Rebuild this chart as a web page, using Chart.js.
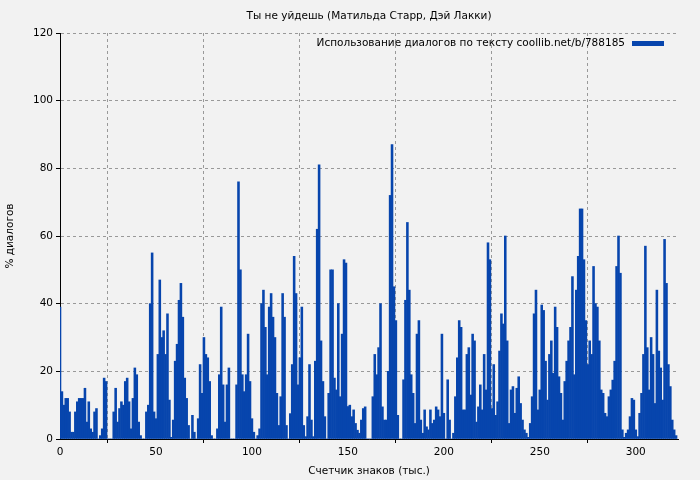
<!DOCTYPE html>
<html>
<head>
<meta charset="utf-8">
<script src="https://cdn.jsdelivr.net/npm/chart.js@4/dist/chart.umd.min.js"></script>
<style>
  body { margin: 0; background: #f2f2f2; }
  #wrap { width: 700px; height: 480px; }
</style>
</head>
<body>
<div id="wrap"><canvas id="c"></canvas></div>
<script>
// Dialog share per thousand characters
const seg1 = [39,14,10,12,12,8,2,2,8,11,12,12,12,15,5,11,3,2,8,9,0,1,3,18,17,0,0,0,8,15,5,9,11,10,17,18,11,3,12,21,19,5,1,0,0,8,10,40,55,8,6,25,47,30];
const seg2 = [32,25,37,11.5,0.5,5.6,23,28,41,46,36,18,12,4,0,7,2,0,6,22,13.5,30,25,24,17,1,0,0,3,19,39,16,5,16,21,0,0,0,16,76,50,19,14,19,31,17,6,2,0,1,3,40];
const seg3 = [44,33,19,39,43,36,30,13.5,4,12.5,43,36,4,0,7.5,22,54,43,16,24,39,4,0.7,6.6,22,5.6,0.7,23,62,81,29,17,6.6,0,13.5,50,50,18,14.5,40,12.5,31,53,52,9.6,10,6.6,8.6,4.6,2.6,1.7,5.6,9];
const seg4 = [9.5,0,0,0,12.5,25,19,27,40,9.5,5.6,5.6,20,72,87,45,35,7,0,0,17.5,41,64,44,19,13.5,4.6,31,35,5.6,1.7,8.6,3.6,2.7,8.6,4.6,5.6,9.5,8.6,6.6,31,7.6,0,17.5,5.6,0,1.7,12.5,24,35,33,8.6,8.6,25];
const seg5 = [27,13,31,29,5,9.5,16,8.6,25,14.5,58,53,9,22,7,11,26,37,34,60,29,4.6,14.5,15.5,7.6,15,18.4,10.5,5.6,2.7,1.7,0.5,4.6,12.5,37,44,8.6,14.5,39.6,38,23,11.5,25,29,19.4,39,33,18.4,13.5,5.6,17,23,29];
const seg6 = [33,48,19,44,54,68,68,53,35,22,29,25,51,40,39,29,14.5,13.5,7.6,6.6,12.5,14.5,17.4,23,51,60,49,2.7,0.5,1.7,2.7,6.6,12,11.5,2.7,0.7,7.6,13.5,25,57,27,14.5,30,25,10.5,44,26,21,11.5,59,46,22,15.5,5.6,2.7,1];
const dialogShare = [].concat(seg1, seg2, seg3, seg4, seg5, seg6);
const xTicks = [0, 50, 100, 150, 200, 250, 300];
const yTicks = [0, 20, 40, 60, 80, 100, 120];

const titleText = 'Ты не уйдешь (Матильда Старр, Дэй Лакки)';
const legendText = 'Использование диалогов по тексту coollib.net/b/788185';
const barColor = '#0745ad';
const font = 'DejaVu Sans';

const extras = {
  id: 'extras',
  afterDraw(chart) {
    const ctx = chart.ctx;
    const a = chart.chartArea;
    ctx.save();
    ctx.fillStyle = '#000';
    ctx.font = '10.5px "' + font + '"';
    ctx.textAlign = 'center';
    ctx.textBaseline = 'middle';
    ctx.fillText(titleText, (a.left + a.right) / 2, 16);
    ctx.textAlign = 'right';
    ctx.fillText(legendText, a.right - 53, a.top + 10);
    ctx.fillStyle = barColor;
    ctx.fillRect(a.right - 46, a.top + 8, 32, 5);
    ctx.restore();
  }
};

new Chart(document.getElementById('c'), {
  type: 'bar',
  data: {
    datasets: [{
      data: dialogShare.map((v, i) => ({ x: i, y: v })),
      backgroundColor: barColor,
      borderWidth: 0,
      barPercentage: 1,
      categoryPercentage: 1
    }]
  },
  options: {
    responsive: true,
    maintainAspectRatio: false,
    animation: false,
    layout: { padding: { top: 33, right: 22 } },
    plugins: { legend: { display: false }, title: { display: false }, tooltip: { enabled: false } },
    scales: {
      x: {
        type: 'linear',
        min: 0,
        max: 322,
        offset: false,
        afterFit: s => { s.height = 41; },
        afterBuildTicks: s => { s.ticks = xTicks.map(v => ({ value: v })); },
        ticks: { color: '#000', font: { family: font, size: 10.5 }, maxRotation: 0 },
        grid: { color: '#999', tickColor: '#000', tickLength: 4 },
        border: { color: '#000', dash: [3, 3] },
        title: { display: true, text: 'Счетчик знаков (тыс.)', color: '#000', font: { family: font, size: 10.5 }, padding: { top: 0, bottom: 2 } }
      },
      y: {
        min: 0,
        max: 120,
        afterFit: s => { s.width = 60; },
        afterBuildTicks: s => { s.ticks = yTicks.map(v => ({ value: v })); },
        ticks: { color: '#000', font: { family: font, size: 10.5 } },
        grid: { color: '#999', tickColor: '#000', tickLength: 4 },
        border: { color: '#000', dash: [3, 3] },
        title: { display: true, text: '% диалогов', color: '#000', font: { family: font, size: 10.5 } }
      }
    }
  },
  plugins: [extras]
});
</script>
</body>
</html>
